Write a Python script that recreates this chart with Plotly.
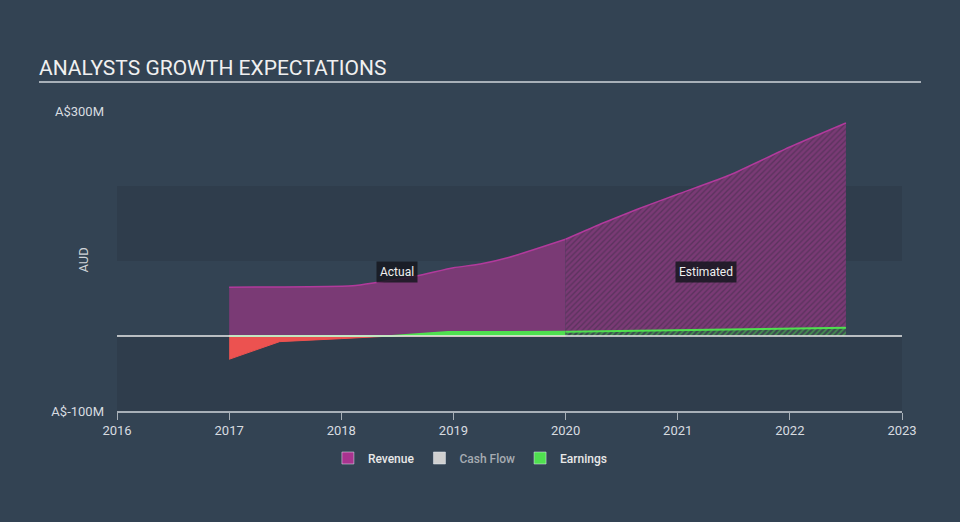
import plotly.graph_objects as go
import numpy as np

# ---- data (A$ millions) ----
rev_actual_x = [2017.0, 2018.1, 2018.3, 2018.67, 2019.0, 2019.24, 2019.5, 2020.0]
rev_actual_y = [65, 67, 71, 80, 91, 96, 105, 129]
rev_est_x = [2020.0, 2020.34, 2020.64, 2021.0, 2021.47, 2022.0, 2022.5]
rev_est_y = [129, 151, 169, 189, 215, 252, 284]

earn_actual_x = [2017.0, 2017.45, 2018.0, 2018.45, 2018.95, 2019.5, 2020.0]
earn_actual_y = [-31, -7.5, -3.5, 0, 5.3, 5.5, 5.6]
earn_est_x = [2020.0, 2020.5, 2021.0, 2021.5, 2022.0, 2022.5]
earn_est_y = [5.6, 6.5, 7.5, 8.5, 9.5, 11]

x_ticks = [2016, 2017, 2018, 2019, 2020, 2021, 2022, 2023]
y_tickvals = [-100, 300]
y_ticktext = ["A$-100M", "A$300M"]
legend_names = ["Revenue", "Cash Flow", "Earnings"]

BG = "#334353"
BAND = "#2f3d4c"
REV_LINE = "#b23a9c"
REV_FILL = "#7a3a75"
GREEN = "#4fe04f"
RED = "#ec5250"
FONT = "Roboto"

fig = go.Figure()

# Revenue actual
fig.add_trace(go.Scatter(x=rev_actual_x, y=rev_actual_y, mode="lines", fill="tozeroy",
                         fillcolor=REV_FILL, line=dict(color=REV_LINE, width=1.5, shape="spline", smoothing=0.5),
                         showlegend=False, hoverinfo="skip"))
# Revenue estimated (hatched)
fig.add_trace(go.Scatter(x=rev_est_x, y=rev_est_y, mode="lines", fill="tozeroy",
                         fillcolor=REV_FILL,
                         fillpattern=dict(shape="/", fgcolor="rgba(45,40,60,0.8)", bgcolor=REV_FILL,
                                          size=4, solidity=0.35),
                         line=dict(color=REV_LINE, width=1.5, shape="spline", smoothing=0.5),
                         showlegend=False, hoverinfo="skip"))

ea = np.array(earn_actual_y, dtype=float)
# Earnings negative (red)
fig.add_trace(go.Scatter(x=earn_actual_x, y=np.minimum(ea, 0), mode="lines", fill="tozeroy",
                         fillcolor=RED, line=dict(color=RED, width=1),
                         showlegend=False, hoverinfo="skip"))
# Earnings positive actual (green)
fig.add_trace(go.Scatter(x=earn_actual_x, y=np.maximum(ea, 0), mode="lines", fill="tozeroy",
                         fillcolor=GREEN, line=dict(color=GREEN, width=2),
                         showlegend=False, hoverinfo="skip"))
# Earnings estimated (hatched green)
fig.add_trace(go.Scatter(x=earn_est_x, y=earn_est_y, mode="lines", fill="tozeroy",
                         fillcolor="#3a6a45",
                         fillpattern=dict(shape="/", fgcolor=GREEN, bgcolor="#3b4a50", size=4, solidity=0.4),
                         line=dict(color=GREEN, width=2),
                         showlegend=False, hoverinfo="skip"))

# Legend entries
leg_colors = ["#a9338f", "#d0d0d0", GREEN]
for name, col in zip(legend_names, leg_colors):
    label = name if name != "Cash Flow" else "<span style='color:#a6acb2'>" + name + "</span>"
    fig.add_trace(go.Bar(x=[None], y=[None], name=label, marker=dict(color=col)))

shapes = [
    dict(type="rect", xref="paper", yref="y", x0=0, x1=1, y0=100, y1=200,
         fillcolor=BAND, line=dict(width=0), layer="below"),
    dict(type="rect", xref="paper", yref="y", x0=0, x1=1, y0=-100, y1=0,
         fillcolor=BAND, line=dict(width=0), layer="below"),
    dict(type="line", xref="paper", yref="y", x0=0, x1=1, y0=0, y1=0,
         line=dict(color="#e8e8e8", width=1.5)),
    dict(type="line", xref="paper", yref="paper", x0=(39 - 117) / 785, x1=(921 - 117) / 785,
         y0=(411 - 82) / 300, y1=(411 - 82) / 300, line=dict(color="#a8b0b8", width=2)),
]

annotations = [
    dict(text="AUD", xref="paper", yref="paper", x=(73 - 117) / 785, y=(411 - 260) / 300,
         textangle=-90, showarrow=False, font=dict(family=FONT, size=13, color="#d0d4d8")),
    dict(text="Actual", x=2018.5, y=85, xref="x", yref="y", showarrow=False,
         bgcolor="rgba(22,24,32,0.85)", borderpad=3, font=dict(family=FONT, size=12, color="#f0f0f0")),
    dict(text="Estimated", x=2021.25, y=85, xref="x", yref="y", showarrow=False,
         bgcolor="rgba(22,24,32,0.85)", borderpad=3, font=dict(family=FONT, size=12, color="#f0f0f0")),
]

fig.update_layout(
    width=960, height=522,
    margin=dict(l=117, r=58, t=111, b=111, autoexpand=False),
    paper_bgcolor=BG, plot_bgcolor=BG,
    font=dict(family=FONT, color="#d8dce0"),
    title=dict(text="ANALYSTS GROWTH EXPECTATIONS", xref="container", yref="container",
               x=39 / 960, xanchor="left", y=1 - 68 / 522, yanchor="middle",
               font=dict(family=FONT, size=21, color="#f0f0f0")),
    xaxis=dict(type="linear", range=[2016, 2023], tickvals=x_ticks, ticks="outside", ticklen=7,
               tickcolor="#a8b0b8", showline=True, linecolor="#a8b0b8", linewidth=1.5,
               showgrid=False, zeroline=False, tickfont=dict(size=13, color="#d8dce0"),
               fixedrange=True),
    yaxis=dict(range=[-100, 300], tickvals=y_tickvals, ticktext=y_ticktext, ticks="",
               showgrid=False, zeroline=False, showline=False, ticklabelstandoff=12,
               tickfont=dict(size=13, color="#d8dce0"), fixedrange=True),
    shapes=shapes, annotations=annotations,
    showlegend=True,
    legend=dict(orientation="h", xref="container", yref="container", x=0.49, xanchor="center",
                y=1 - 458 / 522, yanchor="middle",
                font=dict(family=FONT, size=12, color="#e8e8e8", weight=500),
                bgcolor="rgba(0,0,0,0)", itemclick=False, itemdoubleclick=False),
    barmode="overlay",
)

fig.write_html("out.html")
